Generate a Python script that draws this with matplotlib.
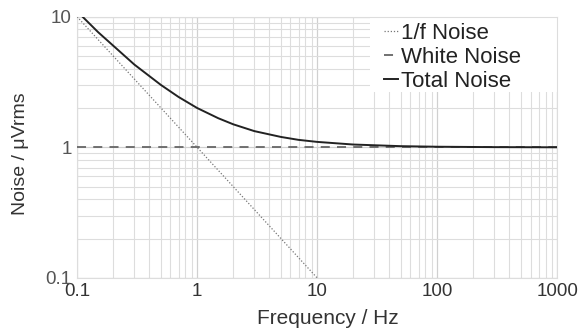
import matplotlib
matplotlib.use('Agg')
import matplotlib.pyplot as plt
from matplotlib.patches import Rectangle
from matplotlib.ticker import FixedLocator, FixedFormatter, LogLocator, NullFormatter

plt.rcParams['font.family'] = ['Liberation Sans', 'DejaVu Sans']

# 1/f noise (straight line on log-log)
f_flicker = [0.1, 10]
v_flicker = [10, 0.1]

# white noise floor
f_white = [0.1, 1000]
v_white = [1, 1]

# total noise
f_total = [0.111, 0.15, 0.2, 0.3, 0.5, 0.7, 1, 1.5, 2, 3, 5, 7, 10, 20, 50, 100, 300, 1000]
v_total = [10, 7.6, 6.0, 4.3, 3.0, 2.43, 2.0, 1.67, 1.5, 1.33, 1.2, 1.14, 1.1, 1.05, 1.02, 1.01, 1.003, 1.0]

x_ticks = [0.1, 1, 10, 100, 1000]
x_labels = ['0.1', '1', '10', '100', '1000']
y_ticks = [0.1, 1, 10]
y_labels = ['0.1', '1', '10']

fig, ax = plt.subplots(figsize=(5.84, 3.34), dpi=100)
fig.subplots_adjust(left=0.132, right=0.954, top=0.95, bottom=0.168)

ax.plot(f_flicker, v_flicker, color='#777777', lw=0.9, ls=(0, (1, 1.5)), label='1/f Noise', zorder=3)
ax.plot(f_white, v_white, color='#666666', lw=1.3, ls=(0, (5, 4)), label='White Noise', zorder=3)
ax.plot(f_total, v_total, color='#222222', lw=1.4, label='Total Noise', zorder=4)

ax.set_xscale('log')
ax.set_yscale('log')
ax.set_xlim(0.1, 1000)
ax.set_ylim(0.1, 10)

ax.xaxis.set_major_locator(FixedLocator(x_ticks))
ax.xaxis.set_major_formatter(FixedFormatter(x_labels))
ax.yaxis.set_major_locator(FixedLocator(y_ticks))
ax.yaxis.set_major_formatter(FixedFormatter(y_labels))
ax.xaxis.set_minor_locator(LogLocator(base=10, subs=range(2, 10)))
ax.yaxis.set_minor_locator(LogLocator(base=10, subs=range(2, 10)))
ax.xaxis.set_minor_formatter(NullFormatter())
ax.yaxis.set_minor_formatter(NullFormatter())

ax.grid(True, which='major', color='#d0d0d0', lw=0.9, zorder=0)
ax.grid(True, which='minor', color='#dddddd', lw=0.8, zorder=0)
ax.tick_params(which='both', length=0, pad=4)
ax.tick_params(axis='x', labelsize=13.5, colors='#333333')
ax.tick_params(axis='y', labelsize=13.5, colors='#555555')
for s in ax.spines.values():
    s.set_color('#dddddd')
    s.set_linewidth(0.8)

ax.set_xlabel('Frequency / Hz', fontsize=15, color='#333333')
ax.xaxis.set_label_coords(0.523, -0.12)
ax.set_ylabel('Noise / μVrms', fontsize=14, color='#333333')
ax.yaxis.set_label_coords(-0.1, 0.475)

# white panel behind the legend, blanking the grid
ax.add_patch(Rectangle((0.61, 0.713), 0.39, 0.287, transform=ax.transAxes,
                       facecolor='white', edgecolor='none', zorder=2))

leg = ax.legend(loc='upper left', bbox_to_anchor=(0.64, 0.975), fontsize=16,
                frameon=False, handlelength=0.6, handletextpad=0.15,
                labelspacing=0.12, borderpad=0.0, borderaxespad=0.0)
for t in leg.get_texts():
    t.set_color('#222222')

fig.savefig('out.png', dpi=100)
